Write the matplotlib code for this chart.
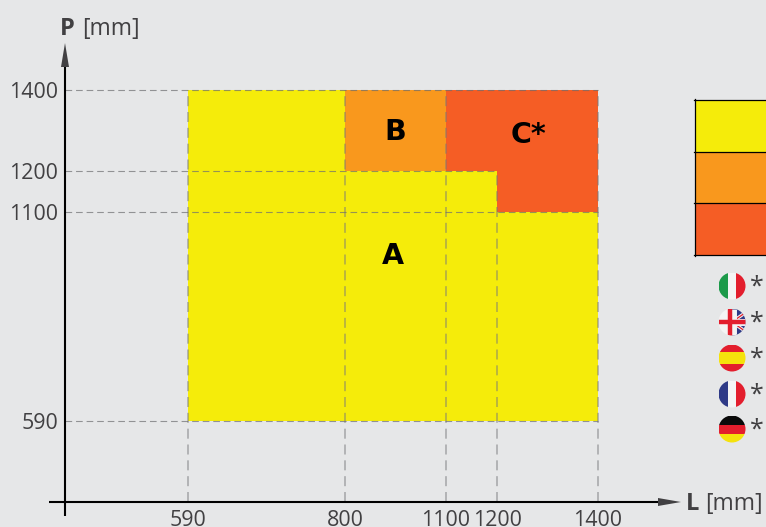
import numpy as np
import matplotlib
matplotlib.use("Agg")
import matplotlib.pyplot as plt
from matplotlib.patches import Rectangle, Circle, Polygon

plt.rcParams['font.family'] = ['Open Sans', 'DejaVu Sans']

# ---- data
L_ticks = [590, 800, 1100, 1200, 1400]
P_ticks = [590, 1100, 1200, 1400]
L_ticklabels = ['590', '800', '1100', '1200', '1400']
P_ticklabels = ['590', '1100', '1200', '1400']
region_A_L = [590, 1400, 1400, 590]
region_A_P = [590, 590, 1400, 1400]
region_B_L = [800, 1100, 1100, 800]
region_B_P = [1200, 1200, 1400, 1400]
region_C_L = [1100, 1400, 1400, 1200, 1200, 1100]
region_C_P = [1400, 1400, 1100, 1100, 1200, 1200]
vline_L = [590, 800, 1100, 1200, 1400]
vline_top = [1400, 1400, 1400, 1200, 1400]
hline_P = [590, 1100, 1200, 1400]
hline_right = [1400, 1400, 1200, 1400]
region_labels = [('A', 943, 992), ('B', 948, 1296), ('C*', 1263, 1290)]

# ---- style / layout
BG = '#e6e7e8'; YEL = '#f5ec0a'; ORG = '#f9981d'; RED = '#f55d25'; TXT = '#414042'
W, H = 766, 527
x_mm = [0, 590, 800, 1100, 1200, 1400, 2000]
x_px = [65, 188, 345, 446, 497, 598, 658]
y_mm = [0, 590, 1100, 1200, 1400, 1500]
y_px = [502, 421, 212, 171, 90, 66]
y_neg = [-v for v in y_px]

fig = plt.figure(figsize=(W/100, H/100), dpi=100, facecolor=BG)
ax = fig.add_axes([x_px[0]/W, 1-y_px[0]/H, (x_px[-1]-x_px[0])/W, (y_px[0]-y_px[-1])/H])
ax.patch.set_alpha(0)
ax.set_xscale('function', functions=(lambda v: np.interp(v, x_mm, x_px), lambda v: np.interp(v, x_px, x_mm)))
ax.set_yscale('function', functions=(lambda v: np.interp(v, y_mm, y_neg), lambda v: np.interp(v, y_neg, y_mm)))
ax.set_xlim(x_mm[0], x_mm[-1]); ax.set_ylim(y_mm[0], y_mm[-1])

ax.fill(region_A_L, region_A_P, color=YEL, lw=0, zorder=1)
ax.fill(region_B_L, region_B_P, color=ORG, lw=0, zorder=2)
ax.fill(region_C_L, region_C_P, color=RED, lw=0, zorder=2)

ds = (0, (6, 3.5))
ax.vlines(vline_L, 0, vline_top, colors='#77787b', alpha=.55, lw=1.2, linestyles=[ds], zorder=3)
ax.hlines(hline_P, 0, hline_right, colors='#6d6e71', alpha=.7, lw=.8, linestyles=[ds], zorder=3)

for s, l, p in region_labels:
    ax.text(l, p, s, ha='center', va='center', fontsize=20.5, fontweight='bold',
            family='DejaVu Sans', color='black', zorder=5)

for s in ('top', 'right'):
    ax.spines[s].set_visible(False)
for s in ('left', 'bottom'):
    ax.spines[s].set_linewidth(1.5); ax.spines[s].set_color('black'); ax.spines[s].set_zorder(4)
ax.minorticks_off()
ax.set_xticks(L_ticks, L_ticklabels); ax.set_yticks(P_ticks, P_ticklabels)
ax.tick_params(axis='both', which='both', length=0, labelsize=15.4, labelcolor=TXT)
ax.tick_params(axis='x', pad=5.5); ax.tick_params(axis='y', pad=5)

# ---- overlay in pixel coordinates
ov = fig.add_axes([0, 0, 1, 1], zorder=5)
ov.set_xlim(0, W); ov.set_ylim(H, 0); ov.axis('off')

ov.plot([49, 65], [502, 502], color='k', lw=1.5, solid_capstyle='butt')
ov.plot([65, 65], [502, 516], color='k', lw=1.5, solid_capstyle='butt')
ov.add_patch(Polygon([[65, 43], [61, 67], [69, 67]], fc=TXT, ec='none'))
ov.add_patch(Polygon([[681, 502], [658, 498], [658, 506]], fc=TXT, ec='none'))
ov.text(60, 29, 'P', fontsize=17, fontweight='bold', color=TXT, va='center', ha='left')
ov.text(82, 29, '[mm]', fontsize=16.6, color=TXT, va='center', ha='left')
ov.text(686, 504, 'L', fontsize=17, fontweight='bold', color=TXT, va='center', ha='left')
ov.text(705, 504, '[mm]', fontsize=16.6, color=TXT, va='center', ha='left')

# colour key (cropped at the right edge)
key_y = [100, 152, 203, 255]
for c, y0, y1 in zip([YEL, ORG, RED], key_y[:-1], key_y[1:]):
    ov.add_patch(Rectangle((695, y0), 80, y1-y0, fc=c, ec='none'))
for y in key_y:
    ov.plot([694, 766], [y, y], color='k', lw=.9)
ov.plot([695, 695], [99, 256], color='k', lw=.9)

# flags
fx = 732; r = 13.5
flag_y = [286, 322, 358, 394, 429]
def flag(cy, parts):
    clip = Circle((fx, cy), r, transform=ov.transData)
    for (x0, y0, w, h, c) in parts:
        p = Rectangle((fx-r+x0*2*r, cy-r+y0*2*r), w*2*r, h*2*r, fc=c, ec='none')
        ov.add_patch(p); p.set_clip_path(clip)
GRN='#1c9a4a'; FR='#e31e2d'; BL='#2e3a87'; WT='#f4f4f4'; ES='#f5e20c'
flag(flag_y[0], [(0,0,.34,1,GRN),(.34,0,.32,1,WT),(.66,0,.34,1,FR)])
flag(flag_y[2], [(0,0,1,.27,FR),(0,.27,1,.46,ES),(0,.73,1,.27,FR)])
flag(flag_y[3], [(0,0,.34,1,BL),(.34,0,.32,1,WT),(.66,0,.34,1,FR)])
flag(flag_y[4], [(0,0,1,.34,'#0a0a0a'),(0,.34,1,.33,FR),(0,.67,1,.33,ES)])
# UK: white left half, blue right half, white diagonal, red cross
cy = flag_y[1]
flag(cy, [(0,0,.5,1,WT),(.5,0,.5,1,BL)])
clip = Circle((fx, cy), r, transform=ov.transData)
for a, b, c, lw in [((fx,cy),(fx+r,cy-r*.7),WT,2.4),((fx,cy),(fx+r,cy+r*.7),WT,2.4),
                    ((fx,cy),(fx+r,cy-r*.7),FR,.9),((fx,cy),(fx+r,cy+r*.7),FR,.9),
                    ((fx-r,cy),(fx+r,cy),WT,5),((fx+1,cy-r),(fx+1,cy+r),WT,5),
                    ((fx-r,cy),(fx+r,cy),FR,3.2),((fx-2,cy-r),(fx-2,cy+r),FR,3.2)]:
    ln, = ov.plot([a[0],b[0]],[a[1],b[1]],color=c,lw=lw,solid_capstyle='butt')
    ln.set_clip_path(clip)
for y in flag_y:
    ov.text(757, y+1, '*', fontsize=18, color=TXT, ha='center', va='center')

fig.savefig('out.png', dpi=100, facecolor=BG)
